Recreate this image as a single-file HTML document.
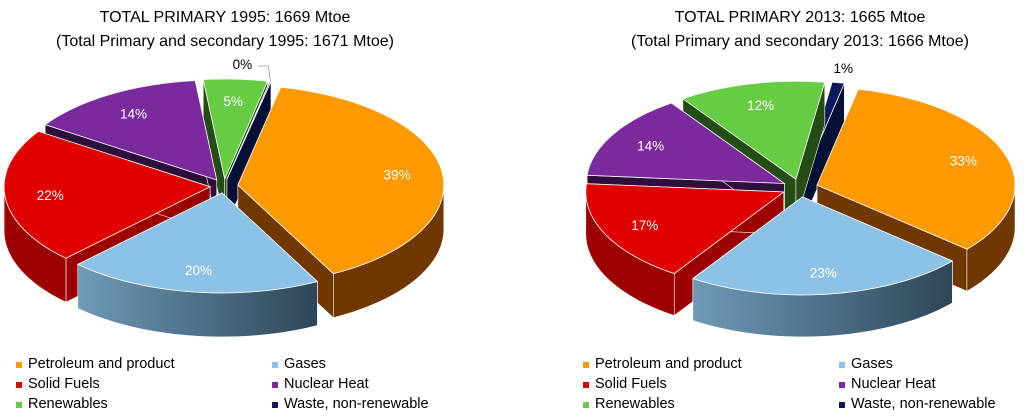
<!DOCTYPE html>
<html><head><meta charset="utf-8"><style>
html,body{margin:0;padding:0;background:#fff;width:1024px;height:420px;overflow:hidden}
svg{display:block}
text{font-family:"Liberation Sans",sans-serif}
</style></head><body>
<svg id="chart" width="1024" height="420" viewBox="0 0 1024 420">
<defs>
<linearGradient id="gasSide" x1="0" x2="1" y1="0" y2="0"><stop offset="0" stop-color="#6f9ab8"/><stop offset="1" stop-color="#2e4658"/></linearGradient>
</defs>
<text x="225" y="22" text-anchor="middle" font-size="16" fill="#000">TOTAL PRIMARY 1995:  1669  Mtoe</text>
<text x="225" y="46" text-anchor="middle" font-size="16" fill="#000">(Total Primary and secondary 1995:  1671  Mtoe)</text>
<text x="800" y="22" text-anchor="middle" font-size="16" fill="#000">TOTAL PRIMARY 2013:  1665  Mtoe</text>
<text x="800" y="46" text-anchor="middle" font-size="16" fill="#000">(Total Primary and secondary 2013:  1666  Mtoe)</text>
<g id="pies"></g>
<g id="legends"></g>
</svg>
<script>
const categories = ["Petroleum and product","Gases","Solid Fuels","Nuclear Heat","Renewables","Waste, non-renewable"];
const values1995 = [39,20,22,14,5,0];
const values2013 = [33,23,17,14,12,1];
const topColors = ["#ff9900","#8cc2e6","#e00000","#7b2a9e","#66cc44","#0a1a5a"];
const sideColors = ["#703800","url(#gasSide)","#9c0000","#2e0f3c","#234d14","#061036"];
const NS="http://www.w3.org/2000/svg";
function mk(tag,attrs,parent){const e=document.createElementNS(NS,tag);for(const k in attrs)e.setAttribute(k,attrs[k]);parent.appendChild(e);return e;}
function drawPie(values,cfg,key){
  const g=mk("g",{},document.getElementById("pies"));
  
  
  const total=values.reduce((a,b)=>a+b,0);
  const D=Math.PI/180;
  let a=cfg.start*D;
  const slices=[];
  values.forEach((v,i)=>{
    const span=Math.max(v/total*2*Math.PI,0.006);
    slices.push({i,v,a1:a,a2:a+span});a+=v/total*2*Math.PI;
  });
  const P=(cx,cy,ang,dy)=>[cx+cfg.rx*Math.sin(ang),cy-cfg.ry*Math.cos(ang)+(dy||0)];
  slices.forEach(s=>{const m=(s.a1+s.a2)/2;s.m=m;s.cx=cfg.cx+cfg.ex*Math.sin(m);s.cy=cfg.cy-cfg.ex*0.5*Math.cos(m);});
  const order=slices.slice().sort((p,q)=>(-Math.cos(p.m))-(-Math.cos(q.m)));
  order.forEach(s=>{
    const sg=mk("g",{},g);
    
    
    const d=cfg.depth,cx=s.cx,cy=s.cy,side=sideColors[s.i];
    [s.a1,s.a2].forEach(ang=>{
      const e=P(cx,cy,ang);
      mk("path",{d:`M${cx},${cy}L${e[0]},${e[1]}L${e[0]},${e[1]+d}L${cx},${cy+d}Z`,fill:side,stroke:"#fff","stroke-width":0.6},sg);
    });
    const ranges=[[Math.max(s.a1,90*D),Math.min(s.a2,270*D)],[Math.max(s.a1,450*D),Math.min(s.a2,630*D)]];
    ranges.forEach(([l,h])=>{
      if(h<=l)return;
      let top="",bot=[];const n=40;
      for(let k=0;k<=n;k++){const t=l+(h-l)*k/n;const p=P(cx,cy,t);top+=(k?"L":"M")+p[0]+","+p[1];bot.push(p[0]+","+(p[1]+d));}
      mk("path",{d:top+"L"+bot.reverse().join("L")+"Z",fill:side,stroke:"#fff","stroke-width":0.6},sg);
    });
    let path=`M${cx},${cy}`;const n=60;
    for(let k=0;k<=n;k++){const t=s.a1+(s.a2-s.a1)*k/n;const p=P(cx,cy,t);path+="L"+p[0]+","+p[1];}
    mk("path",{d:path+"Z",fill:topColors[s.i],stroke:"#fff","stroke-width":0.8},sg);
  });
  slices.forEach(s=>{
    const lbl=Math.round(s.v)+"%";
    let t;
    if(s.v<3){
      const p=P(s.cx,s.cy,s.m);
      const lx=p[0]-(s.v<0.5?28:-5), ly=cfg.cy-cfg.ry-17;
      if(s.v<0.5) mk("path",{d:`M${lx+16},${ly-3}L${lx+26},${ly-3}L${p[0]},${p[1]}`,fill:"none",stroke:"#999","stroke-width":0.8},g);
      t=mk("text",{x:lx,y:ly,"font-size":13.5,fill:"#000","text-anchor":"middle"},g);
    } else {
      const f=0.78;
      const x=s.cx+cfg.rx*f*Math.sin(s.m), y=s.cy-cfg.ry*f*Math.cos(s.m)+5;
      t=mk("text",{x:x,y:y,"font-size":13.5,fill:"#fff","text-anchor":"middle"},g);
    }
    t.textContent=lbl;
    
    
  });
}
drawPie(values1995,{cx:224,cy:186,rx:206,ry:100,depth:44,ex:14,start:12},"1995");
drawPie(values2013,{cx:800,cy:188,rx:198,ry:98,depth:42,ex:18,start:12},"2013");
function legend(x0,key){
  const lg=mk("g",{},document.getElementById("legends"));
  
  
  categories.forEach((c,i)=>{
    const col=i%2, row=Math.floor(i/2);
    const x=x0+col*256, y=368+row*20;
    const eg=mk("g",{},lg);
    
    
    mk("rect",{x:x,y:y-6,width:6,height:6,fill:topColors[i]},eg);
    const t=mk("text",{x:x+12,y:y,"font-size":14.5,fill:"#000"},eg);
    t.textContent=c;
  });
}
legend(16,"1995");legend(583,"2013");
</script>
</body></html>
